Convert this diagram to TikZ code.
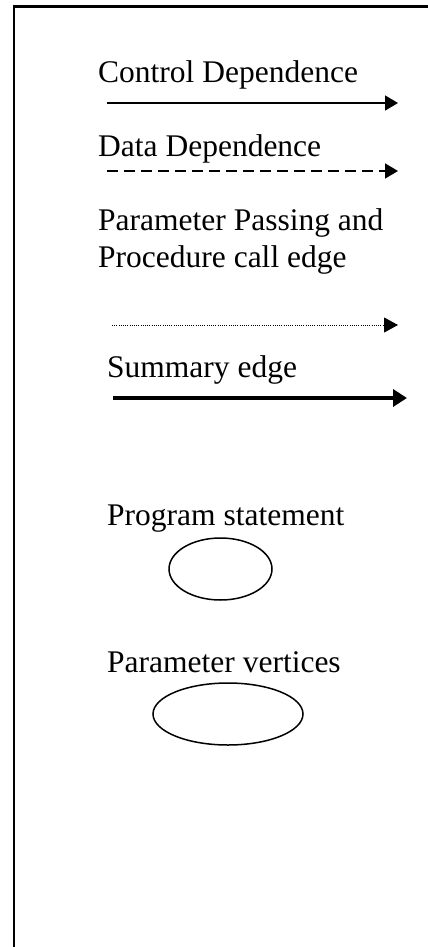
\documentclass[tikz,border=0pt]{standalone}
\usepackage{fontspec}
\setmainfont{Liberation Serif}
\usetikzlibrary{arrows.meta,shapes.geometric}
\tikzset{
  lbl/.style={anchor=base west, inner sep=0pt, align=left,
    font=\fontsize{31.5}{37}\selectfont},
  ctrl/.style={line width=1.6pt, -{Triangle[length=13pt,width=15pt]}},
  datadep/.style={line width=1.6pt, dash pattern=on 11pt off 6pt,
    -{Triangle[length=13pt,width=15pt]}},
  param/.style={line width=1pt, dash pattern=on 1pt off 1.2pt,
    -{Triangle[length=14pt,width=15pt]}},
  summ/.style={line width=4.5pt, -{Triangle[length=14pt,width=17pt]}},
  vertex/.style={draw, ellipse, line width=1.5pt, inner sep=0pt},
}
\begin{document}
\begin{tikzpicture}[x=1pt, y=-1pt]
  \useasboundingbox (0,0) rectangle (428,947);
  % frame running off the right and bottom edges
  \draw[line width=2.2pt] (14,960) -- (14,6.5) -- (440,6.5);

  % edge kinds
  \node[lbl] (tctrl) at (98,83) {Control Dependence};
  \coordinate (c1) at (107,103);
  \coordinate (c2) at (398,103);
  \draw[ctrl] (c1) -- (c2);

  \node[lbl] (tdata) at (98,157) {Data Dependence};
  \coordinate (d1) at (107,171);
  \coordinate (d2) at (398,171);
  \draw[datadep] (d1) -- (d2);

  % two-line label, placed by the baseline of its last line
  \node[lbl] (tparam) at (98,267) {Parameter Passing and\\Procedure call edge};
  \coordinate (p1) at (112,325);
  \coordinate (p2) at (398,325);
  \draw[param] (p1) -- (p2);

  \node[lbl] (tsumm) at (107,377) {Summary edge};
  \coordinate (s1) at (113,398);
  \coordinate (s2) at (407,398);
  \draw[summ] (s1) -- (s2);

  % vertex kinds
  \node[lbl] (tstmt) at (107,525) {Program statement};
  \node[vertex, minimum width=103pt, minimum height=62pt] (stmt) at (220.5,569) {};

  \node[lbl] (tpv) at (107,672) {Parameter vertices};
  \node[vertex, minimum width=150pt, minimum height=62pt] (pv) at (228,714) {};
\end{tikzpicture}
\end{document}
